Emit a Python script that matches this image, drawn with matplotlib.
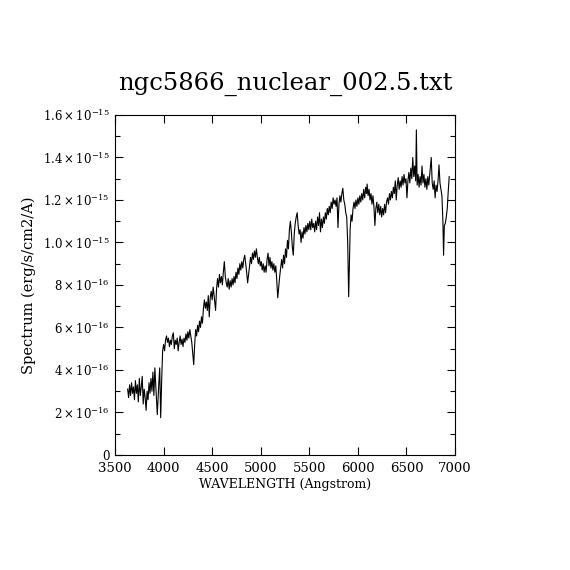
import matplotlib
matplotlib.use("Agg")
import matplotlib.pyplot as plt
import numpy as np
from matplotlib.ticker import FixedLocator, MultipleLocator

plt.rcParams['font.family'] = ['DejaVu Serif']
plt.rcParams['mathtext.fontset'] = 'dejavuserif'

title = "ngc5866_nuclear_002.5.txt"

# wavelength (Angstrom) and flux (units of 1e-16 erg/s/cm2/A)
wave_a = [3630, 3640, 3650, 3660, 3670, 3680, 3690, 3700, 3710, 3720, 3730, 3740,
          3750, 3760, 3770, 3780, 3790, 3800, 3810, 3820, 3830, 3840, 3850, 3860,
          3870, 3880, 3890, 3900, 3910, 3920, 3935, 3950, 3960, 3970, 3980, 3990]
flux_a = [3.1, 2.7, 3.3, 2.8, 3.4, 2.9, 3.2, 2.6, 3.5, 2.9, 3.3, 2.5,
          3.6, 2.8, 3.2, 3.7, 2.4, 3.1, 2.7, 2.1, 3.0, 2.6, 3.4, 2.9,
          3.6, 3.0, 3.9, 2.8, 4.1, 3.2, 1.9, 3.3, 4.1, 1.75, 3.5, 4.9]

wave_b = [4000, 4010, 4020, 4030, 4040, 4050, 4060, 4070, 4080, 4090, 4100, 4110,
          4120, 4130, 4140, 4150, 4160, 4170, 4180, 4190, 4200, 4210, 4220, 4230,
          4240, 4250, 4260, 4270, 4280, 4290, 4300, 4310, 4320, 4330, 4340, 4350,
          4360, 4370, 4380, 4390, 4400, 4410, 4420, 4430]
flux_b = [5.2, 4.9, 5.4, 5.6, 5.3, 5.5, 5.1, 5.4, 5.2, 5.6, 5.75, 5.0,
          5.4, 5.2, 5.5, 4.9, 5.3, 5.6, 5.2, 5.45, 5.1, 5.5, 5.3, 5.7,
          5.4, 5.8, 5.5, 5.9, 5.6, 5.3, 4.8, 4.25, 5.2, 5.9, 5.6, 6.1,
          5.8, 6.3, 6.0, 6.5, 6.2, 6.9, 7.3, 6.9]

wave_c = [4440, 4450, 4460, 4470, 4480, 4490, 4500, 4510, 4520, 4530, 4535, 4545,
          4555, 4565, 4575, 4585, 4595, 4605, 4615, 4625, 4635, 4645, 4655, 4665,
          4675, 4685, 4695, 4705, 4715, 4725, 4735, 4745, 4755, 4765, 4775, 4785,
          4795, 4805, 4815, 4825, 4835, 4845, 4855, 4865, 4875, 4885, 4895, 4905,
          4915, 4925, 4935, 4945, 4955, 4965, 4975, 4985, 4995, 5005, 5015, 5025,
          5035, 5045, 5055, 5065, 5075, 5085, 5095, 5105, 5115, 5125, 5135, 5145,
          5155, 5165, 5175, 5185, 5195, 5205, 5215, 5225, 5235, 5245, 5255, 5265,
          5275, 5285, 5295]
flux_c = [7.2, 6.8, 7.5, 6.5, 7.4, 7.7, 7.3, 7.9, 7.5, 7.0, 6.8, 7.8,
          8.3, 7.9, 8.5, 8.1, 8.4, 8.0, 8.6, 9.1, 8.4, 8.1, 7.9, 8.3,
          7.8, 8.2, 7.9, 8.3, 8.0, 8.4, 8.1, 8.6, 8.3, 8.8, 8.5, 9.0,
          8.7, 9.1, 8.8, 9.2, 9.4, 9.0, 8.6, 8.1, 8.5, 8.9, 9.3, 9.0,
          9.5, 9.2, 9.6, 9.3, 9.7, 9.3, 9.0, 9.3, 8.9, 9.1, 8.7, 9.0,
          8.6, 8.9, 8.6, 9.2, 9.5, 8.9, 9.3, 8.8, 9.1, 8.7, 9.0, 8.6,
          8.9, 8.2, 7.4, 7.9, 8.4, 8.8, 9.2, 8.8, 9.4, 9.0, 9.7, 9.3,
          10.1, 9.7, 10.6]

wave_d = [5305, 5315, 5325, 5335, 5345, 5355, 5365, 5375, 5385, 5395, 5405, 5415,
          5425, 5435, 5445, 5455, 5465, 5475, 5485, 5495, 5505, 5515, 5525, 5535,
          5545, 5555, 5565, 5575, 5585, 5595, 5605, 5615, 5625, 5635, 5645, 5655,
          5665, 5675, 5685, 5695, 5705, 5715, 5725, 5735, 5745, 5755, 5765, 5775,
          5785, 5795, 5805, 5815, 5825, 5835, 5845, 5855, 5865, 5875, 5885, 5895,
          5905, 5912, 5920, 5930]
flux_d = [11.0, 10.5, 9.8, 9.4, 10.4, 10.9, 11.2, 11.4, 10.8, 10.4, 10.6, 10.0,
          10.5, 10.2, 10.7, 10.4, 10.8, 10.5, 10.9, 10.6, 11.0, 10.6, 11.1, 10.7,
          10.9, 10.5, 11.0, 10.6, 11.2, 10.8, 11.4, 10.5, 11.1, 10.7, 11.2, 10.9,
          11.4, 11.1, 11.6, 11.3, 11.7, 11.4, 11.9, 11.6, 12.1, 11.8, 12.0, 11.7,
          12.1, 10.7, 11.8, 12.2, 11.9, 12.3, 12.55, 12.0, 11.8, 11.4, 11.2, 10.0,
          7.45, 8.8, 10.6, 11.3]

wave_e = [5940, 5950, 5960, 5970, 5980, 5990, 6000, 6010, 6020, 6030, 6040, 6050,
          6060, 6070, 6080, 6090, 6095, 6105, 6115, 6125, 6135, 6145, 6155, 6165,
          6175, 6185, 6195, 6205, 6215, 6225, 6235, 6245, 6255, 6265, 6275, 6285,
          6295, 6305, 6315, 6325, 6335, 6345, 6355, 6365, 6375, 6385, 6395, 6405,
          6415, 6425, 6435, 6445, 6455, 6465, 6475, 6485, 6495, 6505, 6515, 6525,
          6535, 6545, 6555, 6565, 6575, 6585, 6595, 6602, 6610, 6620, 6630, 6640,
          6650, 6660, 6670, 6680, 6690, 6700, 6710, 6720, 6730, 6740, 6755, 6765,
          6775, 6785, 6795, 6805, 6815, 6825, 6835, 6845, 6855, 6865, 6875, 6882,
          6890, 6900, 6910, 6920, 6930, 6940]
flux_e = [11.0, 11.6, 11.9, 11.6, 12.0, 11.7, 12.1, 11.8, 12.2, 11.9, 12.3, 12.0,
          12.5, 12.1, 12.6, 12.3, 12.75, 12.2, 12.5, 12.0, 12.3, 11.8, 12.2, 11.7,
          10.8, 11.6, 11.9, 11.4, 11.8, 11.3, 11.7, 11.2, 11.6, 11.3, 11.8, 11.4,
          11.9, 12.1, 11.8, 12.3, 12.0, 12.4, 12.1, 12.6, 12.3, 12.9, 12.0, 12.7,
          13.05, 12.5, 12.9, 12.6, 13.1, 12.7, 13.2, 12.8, 13.0, 12.1, 12.9, 13.3,
          12.8, 13.5, 13.0, 14.0, 13.1, 13.6, 12.9, 15.3, 12.7, 13.2, 12.6, 13.1,
          12.7, 13.6, 12.8, 13.2, 12.6, 13.0, 12.5, 13.1, 12.7, 13.2, 14.0, 12.8,
          12.5, 12.9, 12.1, 12.7, 12.4, 12.9, 13.65, 12.8, 12.5, 12.2, 11.0, 9.4,
          10.8, 10.9, 11.2, 11.6, 12.4, 13.1]

wave = np.array(wave_a + wave_b + wave_c + wave_d + wave_e, dtype=float)
flux = np.array(flux_a + flux_b + flux_c + flux_d + flux_e) * 1e-16

ytick_vals = [0, 2e-16, 4e-16, 6e-16, 8e-16, 1.0e-15, 1.2e-15, 1.4e-15, 1.6e-15]
ytick_labels = ["0", r"$2\times10^{-16}$", r"$4\times10^{-16}$", r"$6\times10^{-16}$",
                r"$8\times10^{-16}$", r"$1.0\times10^{-15}$", r"$1.2\times10^{-15}$",
                r"$1.4\times10^{-15}$", r"$1.6\times10^{-15}$"]

fig = plt.figure(figsize=(5.7, 5.7), dpi=100)
ax = fig.add_axes([0.2018, 0.2018, 0.5965, 0.5965])
ax.plot(wave, flux, color="black", lw=0.8)

ax.set_xlim(3500, 7000)
ax.set_ylim(0, 1.6e-15)
ax.xaxis.set_major_locator(MultipleLocator(500))
ax.yaxis.set_major_locator(FixedLocator(ytick_vals))
ax.yaxis.set_minor_locator(MultipleLocator(1e-16))
ax.set_yticklabels(ytick_labels)
ax.tick_params(which="both", direction="in", top=True, right=True)
ax.tick_params(axis="x", labelsize=9.5, pad=5)
ax.tick_params(axis="y", labelsize=8.5, pad=4)
ax.tick_params(which="major", length=6, width=0.8)
ax.tick_params(which="minor", length=3.5, width=0.8)
for sp in ax.spines.values():
    sp.set_linewidth(0.8)

ax.set_xlabel("WAVELENGTH (Angstrom)", fontsize=9, labelpad=2)
ax.set_ylabel("Spectrum (erg/s/cm2/A)", fontsize=10.5, labelpad=5)
ax.set_title(title, fontsize=17.5, pad=18)

fig.savefig("out.png", dpi=100)
